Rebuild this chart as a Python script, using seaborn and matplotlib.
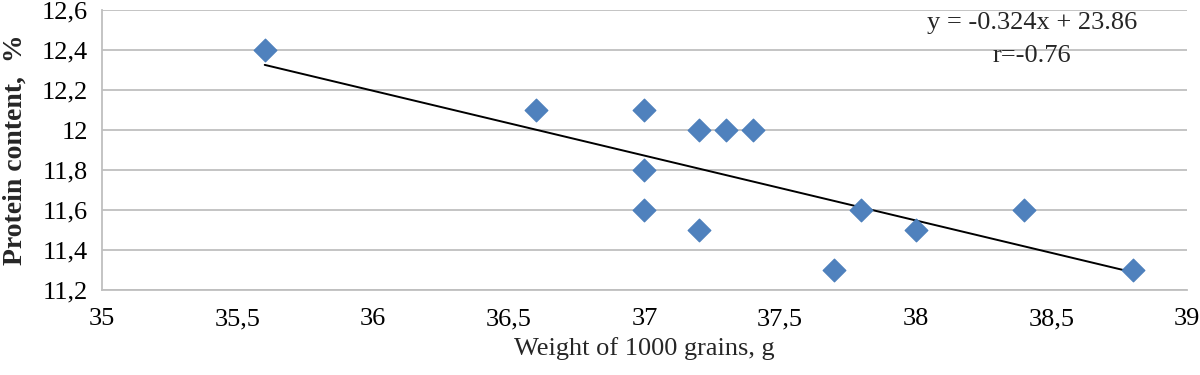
import numpy as np
import pandas as pd
import matplotlib
matplotlib.use("Agg")
import matplotlib.pyplot as plt
import seaborn as sns
from matplotlib.ticker import FuncFormatter

# values
weight = [35.6, 36.6, 37.0, 37.0, 37.0, 37.2, 37.3, 37.4, 37.2, 37.7, 37.8, 38.0, 38.4, 38.8]
protein = [12.4, 12.1, 12.1, 11.8, 11.6, 12.0, 12.0, 12.0, 11.5, 11.3, 11.6, 11.5, 11.6, 11.3]
slope, intercept = -0.324, 23.86
r_value = -0.76

df = pd.DataFrame({"weight": weight, "protein": protein})

# trend line over the data range, from the stated equation
x_line = np.array([min(weight), max(weight)])
trend = pd.DataFrame({"x": x_line, "y": slope * x_line + intercept})

sns.set_theme(style="white")
plt.rcParams["font.family"] = ["Liberation Serif", "DejaVu Serif"]

fig = plt.figure(figsize=(12, 3.75), dpi=100)
ax = fig.add_axes([0.085, 0.2267, 0.904, 0.7466])

grid_c = "#BFBFBF"
fs = 19
ax.set_xlim(35, 39)
ax.set_ylim(11.2, 12.6)
ax.set_xticks(np.arange(35, 39.01, 0.5))
ax.set_yticks(np.arange(11.2, 12.61, 0.2))
ax.yaxis.grid(True, color=grid_c, linewidth=1.3)
ax.set_axisbelow(True)

sns.lineplot(data=trend, x="x", y="y", color="black", linewidth=1.4, ax=ax)
sns.scatterplot(data=df, x="weight", y="protein", marker="D", s=135,
                color="#4F81BD", edgecolor="#4A7EBB", linewidth=0.8, ax=ax, zorder=3)

ax.xaxis.set_major_formatter(FuncFormatter(lambda v, p: f"{v:g}".replace(".", ",")))
ax.yaxis.set_major_formatter(FuncFormatter(lambda v, p: f"{round(v, 1):g}".replace(".", ",")))

for side in ["top", "right"]:
    ax.spines[side].set_visible(False)
for side in ["left", "bottom"]:
    ax.spines[side].set_color(grid_c)
    ax.spines[side].set_linewidth(1.3)

ax.tick_params(axis="both", which="major", direction="out", length=5, width=1.3,
               color=grid_c, labelsize=fs, labelcolor="black")
ax.tick_params(axis="y", pad=5)
ax.tick_params(axis="x", pad=8)

ax.set_xlabel("Weight of 1000 grains, g", fontsize=fs, labelpad=5)
ax.set_ylabel("Protein content,  %", fontsize=20, fontweight="bold", labelpad=10)

ax.text(38.43, 12.535, f"y = {slope}x + {intercept}", ha="center", va="center", fontsize=fs)
ax.text(38.43, 12.37, f"r={r_value}", ha="center", va="center", fontsize=fs)

fig.savefig("out.png", dpi=100)
